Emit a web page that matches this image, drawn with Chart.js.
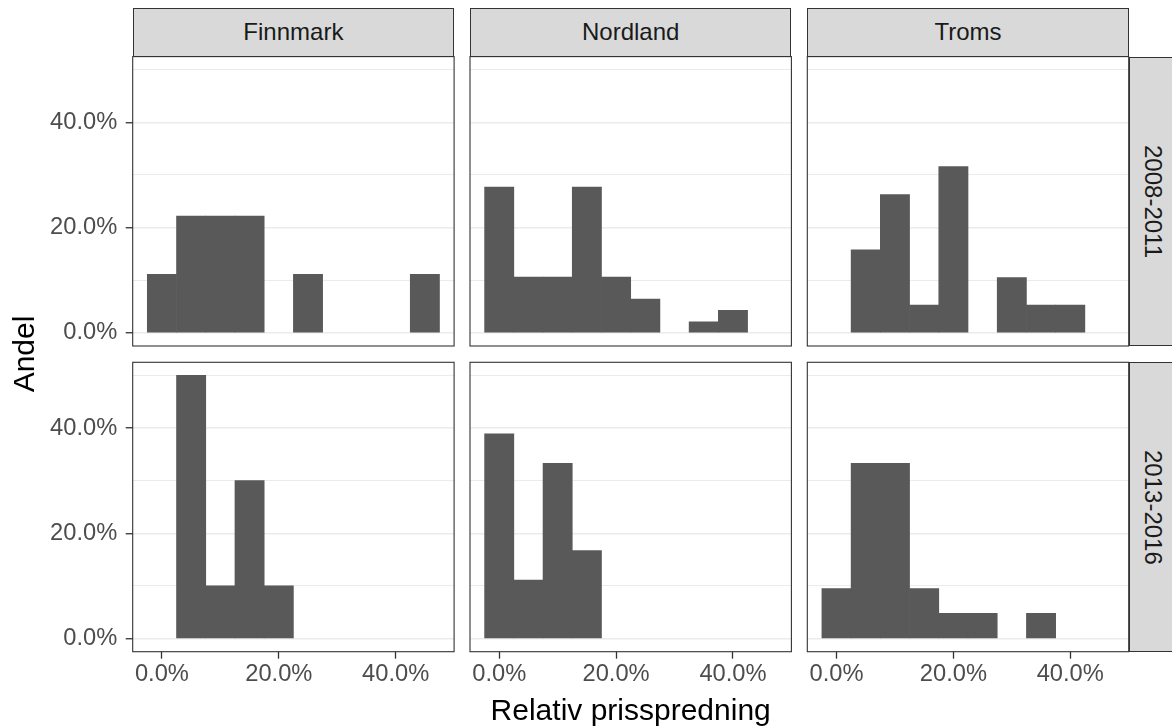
<!DOCTYPE html>
<html>
<head>
<meta charset="utf-8">
<script src="https://cdn.jsdelivr.net/npm/chart.js@4/dist/chart.umd.min.js"></script>
<style>
  html, body { margin: 0; padding: 0; background: #fff; }
  body { width: 1172px; height: 726px; position: relative; overflow: hidden; font-family: "Liberation Sans", Arial, sans-serif; }
  canvas { position: absolute; }
  .strip { position: absolute; box-sizing: border-box; background: #D9D9D9; border: 1.1px solid #333;
           color: #1A1A1A; font-size: 24px; display: flex; align-items: center; justify-content: center; }
  .strip.right span { writing-mode: vertical-rl; }
  .title { position: absolute; color: #000; font-size: 30px; line-height: 30px; white-space: nowrap; text-align: center; }
</style>
</head>
<body>
<script>
// Histogram bins (bin centres, in percent; bin width 5)
const bins = [0, 5, 10, 15, 20, 25, 30, 35, 40, 45];

// Share of observations per bin (percent)
const finnmark0811 = [11.1, 22.2, 22.2, 22.2, 0, 11.1, 0, 0, 0, 11.1];
const nordland0811 = [27.7, 10.6, 10.6, 27.7, 10.6, 6.4, 0, 2.1, 4.3, 0];
const troms0811    = [0, 15.8, 26.3, 5.3, 31.6, 0, 10.5, 5.3, 5.3, 0];
const finnmark1316 = [0, 50.0, 10.0, 30.0, 10.0, 0, 0, 0, 0, 0];
const nordland1316 = [38.9, 11.1, 33.3, 16.7, 0, 0, 0, 0, 0, 0];
const troms1316    = [9.5, 33.3, 33.3, 9.5, 4.8, 4.8, 0, 4.8, 0, 0];

// Facet labels and tick values
const regions = ["Finnmark", "Nordland", "Troms"];
const periods = ["2008-2011", "2013-2016"];
const xTickStep = 20;
const yTickStep = 10;
const yLabelStep = 20;

const panelValues = [
  [finnmark0811, nordland0811, troms0811],
  [finnmark1316, nordland1316, troms1316]
];

// Panel geometry
const colLeft = [132.7, 470, 807.3];
const panelW = 321.4;
const rowTop = [56.6, 362.3];
const panelH = 289.4;
const M = 3;          // margin around each panel canvas
const XAXIS_H = 62;   // room for x tick labels on the bottom row
const stripTop = 8.3;
const stripSize = 48;

const tickFont = { family: "Liberation Sans", size: 23.7 };

// Draws the dark frame around each panel
const panelFrame = {
  id: 'panelFrame',
  afterDatasetsDraw(chart) {
    const { ctx, chartArea: a } = chart;
    ctx.save();
    ctx.strokeStyle = '#333333';
    ctx.lineWidth = 1.1;
    ctx.strokeRect(a.left, a.top, a.right - a.left, a.bottom - a.top);
    ctx.restore();
  }
};

function pct(v) { return v.toFixed(1) + '%'; }

function makePanel(r, c) {
  const pl = colLeft[c], pt = rowTop[r];
  const firstCol = c === 0, bottomRow = r === 1;

  const cLeft = firstCol ? 0 : Math.floor(pl - M);
  const cTop = Math.floor(pt - M);
  const cRight = Math.ceil(pl + panelW + M);
  const cBottom = bottomRow ? Math.ceil(pt + panelH + XAXIS_H) : Math.ceil(pt + panelH + M);
  const w = cRight - cLeft, h = cBottom - cTop;

  const padLeft = firstCol ? 0 : pl - cLeft;
  const yAxisW = firstCol ? pl - cLeft : 0;
  const padRight = cRight - (pl + panelW);
  const padTop = pt - cTop;
  const padBottom = bottomRow ? 0 : cBottom - (pt + panelH);
  const xAxisH = bottomRow ? cBottom - (pt + panelH) : 0;

  const cv = document.createElement('canvas');
  cv.width = w; cv.height = h;
  cv.style.left = cLeft + 'px'; cv.style.top = cTop + 'px';
  cv.style.width = w + 'px'; cv.style.height = h + 'px';
  document.body.appendChild(cv);

  const vals = panelValues[r][c];
  new Chart(cv, {
    type: 'bar',
    data: {
      datasets: [{
        // empty bins are kept (for the bin width) but not drawn
        data: bins.map((b, i) => ({ x: b, y: vals[i] > 0 ? vals[i] : null })),
        backgroundColor: '#595959',
        borderWidth: 0,
        barPercentage: 1,
        categoryPercentage: 1
      }]
    },
    options: {
      responsive: false,
      devicePixelRatio: 1,
      animation: false,
      events: [],
      layout: { padding: { left: padLeft, right: padRight, top: padTop, bottom: padBottom } },
      plugins: { legend: { display: false }, tooltip: { enabled: false }, title: { display: false } },
      scales: {
        x: {
          type: 'linear',
          display: bottomRow,
          min: -5, max: 50,
          offset: false,
          border: { display: false },
          grid: { display: true, offset: false, drawOnChartArea: false, drawTicks: true,
                  tickLength: 7, tickColor: '#333333', tickWidth: 1.3 },
          ticks: { stepSize: xTickStep, includeBounds: false, autoSkip: false, maxRotation: 0,
                   padding: 1.5, color: '#4D4D4D', font: tickFont, callback: v => pct(v) },
          afterFit: s => { s.height = xAxisH; s.paddingLeft = 0; s.paddingRight = 0; }
        },
        y: {
          type: 'linear',
          min: -2.5, max: 52.5,
          border: { display: false },
          grid: {
            color: '#EBEBEB',
            lineWidth: ctx => (ctx.tick && ctx.tick.value % yLabelStep === 0) ? 1.5 : 1.0,
            drawTicks: firstCol,
            tickLength: 7,
            tickWidth: 1.3,
            tickColor: ctx => (ctx.tick && ctx.tick.value % yLabelStep === 0) ? '#333333' : 'rgba(0,0,0,0)'
          },
          ticks: { display: firstCol, stepSize: yTickStep, includeBounds: false, padding: 8.5,
                   color: '#4D4D4D', font: tickFont,
                   callback: v => (v % yLabelStep === 0) ? pct(v) : '' },
          afterFit: s => { s.width = yAxisW; s.paddingTop = 0; s.paddingBottom = 0; }
        }
      }
    },
    plugins: [panelFrame]
  });
}

for (let r = 0; r < 2; r++) for (let c = 0; c < 3; c++) makePanel(r, c);

// Facet strips
regions.forEach((name, c) => {
  const d = document.createElement('div');
  d.className = 'strip';
  d.style.left = colLeft[c] + 'px';
  d.style.top = stripTop + 'px';
  d.style.width = panelW + 'px';
  d.style.height = (rowTop[0] - stripTop) + 'px';
  d.textContent = name;
  document.body.appendChild(d);
});
periods.forEach((name, r) => {
  const d = document.createElement('div');
  d.className = 'strip right';
  d.style.left = (colLeft[2] + panelW) + 'px';
  d.style.top = rowTop[r] + 'px';
  d.style.width = stripSize + 'px';
  d.style.height = panelH + 'px';
  const s = document.createElement('span');
  s.textContent = name;
  d.appendChild(s);
  document.body.appendChild(d);
});

// Axis titles
const xTitle = document.createElement('div');
xTitle.className = 'title';
xTitle.textContent = 'Relativ prisspredning';
const xMid = (colLeft[0] + colLeft[2] + panelW) / 2;
xTitle.style.left = (xMid - 300) + 'px';
xTitle.style.width = '600px';
xTitle.style.top = '694.5px';
document.body.appendChild(xTitle);

const yTitle = document.createElement('div');
yTitle.className = 'title';
yTitle.textContent = 'Andel';
const yMid = (rowTop[0] + rowTop[1] + panelH) / 2;
yTitle.style.left = (23.5 - 100) + 'px';
yTitle.style.width = '200px';
yTitle.style.top = (yMid - 15) + 'px';
yTitle.style.transform = 'rotate(-90deg)';
document.body.appendChild(yTitle);
</script>
</body>
</html>
